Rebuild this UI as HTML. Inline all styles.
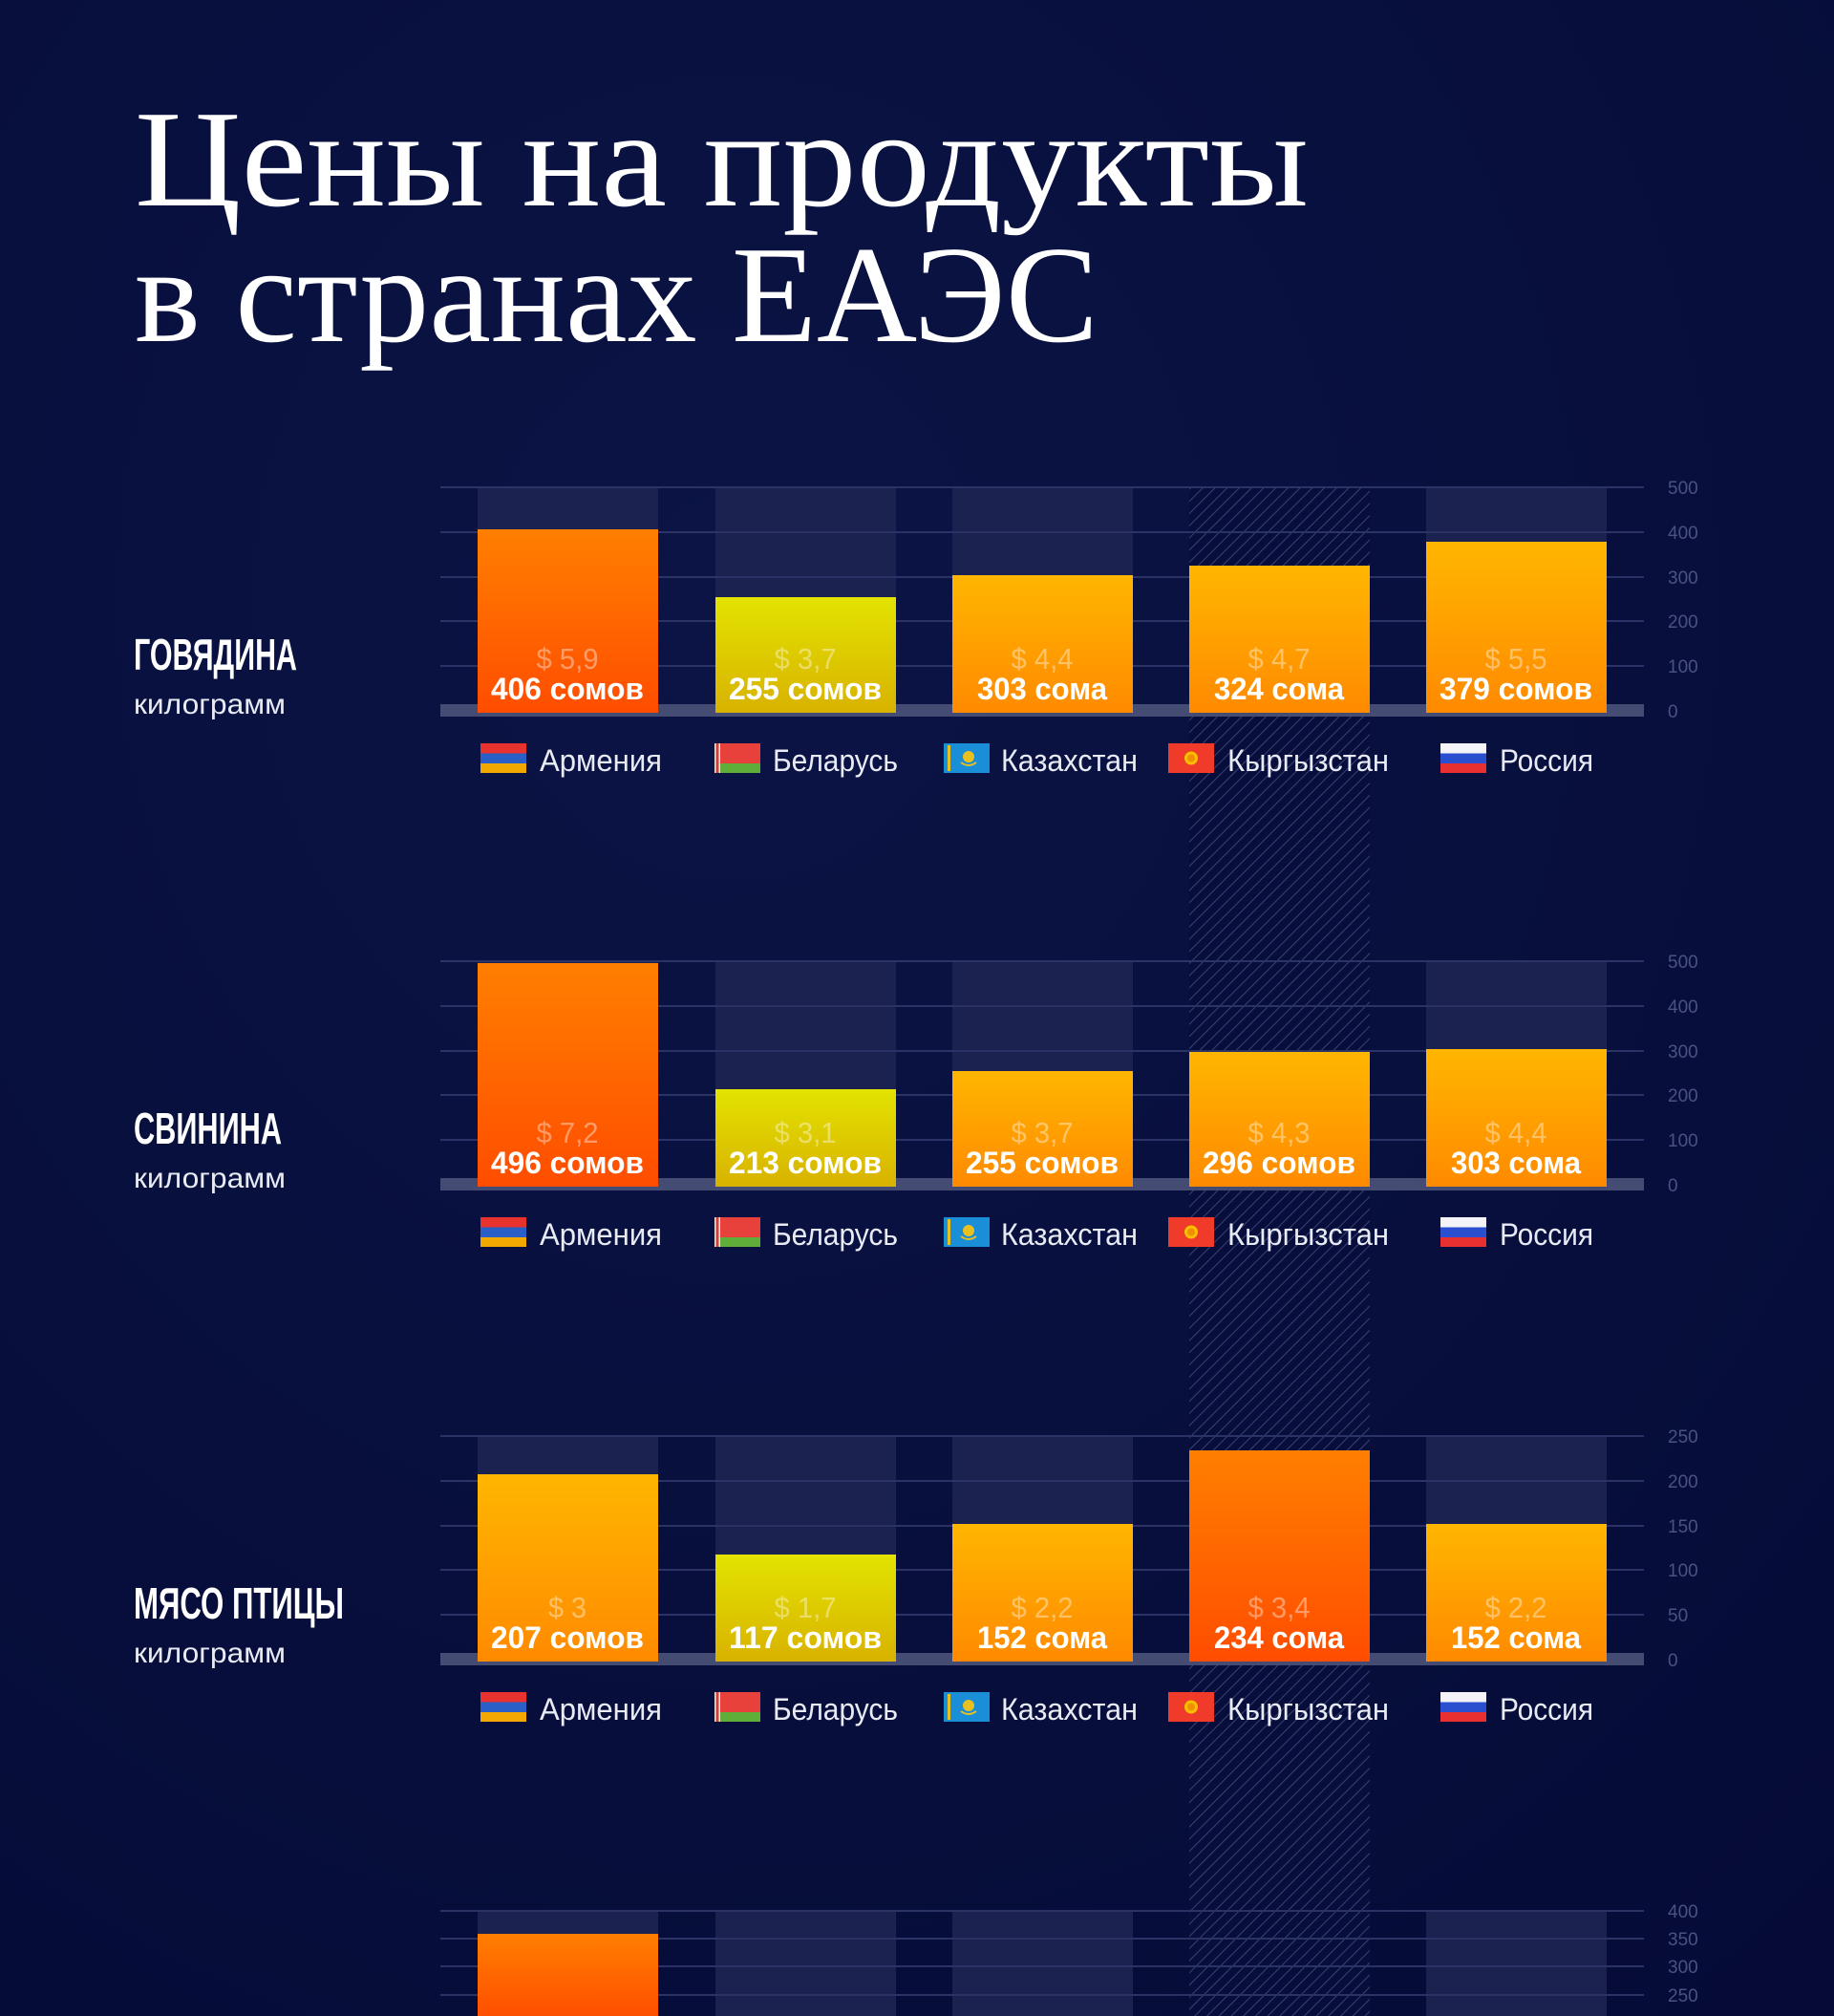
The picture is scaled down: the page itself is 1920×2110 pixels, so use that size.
<!DOCTYPE html>
<html><head><meta charset="utf-8"><style>
html,body{margin:0;padding:0;background:#060c3a;}
svg{display:block}
.t{font-family:"Liberation Serif","Noto Serif CJK SC",serif;fill:#fff}
.h{font-family:"Liberation Sans Narrow","Liberation Sans",sans-serif;font-weight:bold;fill:#fff}
.s{font-family:"Liberation Sans Narrow","Liberation Sans",sans-serif;fill:#e8eaf4}
.v{font-family:"Liberation Sans Narrow","Liberation Sans",sans-serif;font-weight:bold;fill:#fff;font-size:32px;text-anchor:middle}
.d{font-family:"Liberation Sans Narrow","Liberation Sans",sans-serif;fill:rgba(255,255,255,0.4);font-size:31px;text-anchor:middle}
.a{font-family:"Liberation Sans Narrow","Liberation Sans",sans-serif;fill:#4a5282;font-size:19px}
.l{font-family:"Liberation Sans Narrow","Liberation Sans",sans-serif;fill:#e8eaf4;font-size:32px}
</style></head><body>
<svg width="1920" height="2110" viewBox="0 0 1920 2110" xmlns="http://www.w3.org/2000/svg">
<defs>
<radialGradient id="bg" cx="0.4" cy="0.3" r="0.9"><stop offset="0" stop-color="#0b1445"/><stop offset="1" stop-color="#050b36"/></radialGradient>
<linearGradient id="gr" x1="0" y1="0" x2="0" y2="1"><stop offset="0" stop-color="#ff7f00"/><stop offset="1" stop-color="#ff4d00"/></linearGradient>
<linearGradient id="gy" x1="0" y1="0" x2="0" y2="1"><stop offset="0" stop-color="#e3e300"/><stop offset="1" stop-color="#d8b200"/></linearGradient>
<linearGradient id="go" x1="0" y1="0" x2="0" y2="1"><stop offset="0" stop-color="#ffb600"/><stop offset="1" stop-color="#ff8a00"/></linearGradient>
<pattern id="hat" width="9" height="9" patternUnits="userSpaceOnUse" patternTransform="rotate(45)"><rect width="9" height="9" fill="#070e3c"/><line x1="0" y1="0" x2="0" y2="9" stroke="#3a4272" stroke-width="2"/></pattern>
<g id="fAM"><rect width="48" height="10.5" fill="#e8322e"/><rect y="10.5" width="48" height="10.5" fill="#2a5fc8"/><rect y="21" width="48" height="10" fill="#f2a800"/></g>
<g id="fBY"><rect width="48" height="21" fill="#e8403a"/><rect y="21" width="48" height="10" fill="#5fae3a"/><rect width="6" height="31" fill="#f0e8e0"/><rect x="1.5" width="3" height="31" fill="#d04040"/></g>
<g id="fKZ"><rect width="48" height="31" fill="#1a8fd8"/><rect x="4" y="2" width="3" height="27" fill="#e8c020"/><circle cx="26" cy="14" r="6" fill="#e8c020"/><path d="M18 20 Q26 26 34 20" stroke="#e8c020" stroke-width="2" fill="none"/></g>
<g id="fKG"><rect width="48" height="31" fill="#f03a2a"/><circle cx="24" cy="15.5" r="7" fill="#f8c000"/><circle cx="24" cy="15.5" r="4" fill="#f09000"/></g>
<g id="fRU"><rect width="48" height="10.5" fill="#f4f4f8"/><rect y="10.5" width="48" height="10.5" fill="#2a50d0"/><rect y="21" width="48" height="10" fill="#e83030"/></g>
<g id="leg">
<use href="#fAM" x="503" y="778"/><text class="l" x="565" y="807" textLength="128" lengthAdjust="spacingAndGlyphs">Армения</text>
<use href="#fBY" x="748" y="778"/><text class="l" x="809" y="807" textLength="131" lengthAdjust="spacingAndGlyphs">Беларусь</text>
<use href="#fKZ" x="988" y="778"/><text class="l" x="1048" y="807" textLength="143" lengthAdjust="spacingAndGlyphs">Казахстан</text>
<use href="#fKG" x="1223" y="778"/><text class="l" x="1285" y="807" textLength="169" lengthAdjust="spacingAndGlyphs">Кыргызстан</text>
<use href="#fRU" x="1508" y="778"/><text class="l" x="1570" y="807" textLength="98" lengthAdjust="spacingAndGlyphs">Россия</text>
</g>
<g id="grid">
<rect x="500" y="510" width="189" height="234" fill="#1b2250"/><rect x="749" y="510" width="189" height="234" fill="#1b2250"/><rect x="997" y="510" width="189" height="234" fill="#1b2250"/><rect x="1493" y="510" width="189" height="234" fill="#1b2250"/>
<g stroke="#2b3366" stroke-width="2"><line x1="461" x2="1721" y1="510" y2="510"/><line x1="461" x2="1721" y1="557" y2="557"/><line x1="461" x2="1721" y1="604" y2="604"/><line x1="461" x2="1721" y1="650" y2="650"/><line x1="461" x2="1721" y1="697" y2="697"/></g>
<rect x="461" y="737" width="1260" height="13" fill="#454c74"/>
</g>
</defs>
<rect width="1920" height="2110" fill="url(#bg)"/>
<rect x="1245" y="510" width="189" height="1600" fill="url(#hat)"/>

<text class="t" x="141" y="215" font-size="134" textLength="1229" lengthAdjust="spacingAndGlyphs" transform="translate(0,215) scale(1,1.08) translate(0,-215)">Цены на продукты</text>
<text class="t" x="141" y="357" font-size="134" textLength="1009" lengthAdjust="spacingAndGlyphs" transform="translate(0,357) scale(1,1.08) translate(0,-357)">в странах ЕАЭС</text>

<!-- CHART 1 -->
<g>
<use href="#grid"/>
<rect x="500" y="554" width="189" height="192" fill="url(#gr)"/>
<rect x="749" y="625" width="189" height="121" fill="url(#gy)"/>
<rect x="997" y="602" width="189" height="144" fill="url(#go)"/>
<rect x="1245" y="592" width="189" height="154" fill="url(#go)"/>
<rect x="1493" y="567" width="189" height="179" fill="url(#go)"/>
<text class="d" x="594" y="700" textLength="65" lengthAdjust="spacingAndGlyphs">$ 5,9</text><text class="v" x="594" y="732" textLength="160" lengthAdjust="spacingAndGlyphs">406 сомов</text>
<text class="d" x="843" y="700" textLength="65" lengthAdjust="spacingAndGlyphs">$ 3,7</text><text class="v" x="843" y="732" textLength="160" lengthAdjust="spacingAndGlyphs">255 сомов</text>
<text class="d" x="1091" y="700" textLength="65" lengthAdjust="spacingAndGlyphs">$ 4,4</text><text class="v" x="1091" y="732" textLength="136" lengthAdjust="spacingAndGlyphs">303 сома</text>
<text class="d" x="1339" y="700" textLength="65" lengthAdjust="spacingAndGlyphs">$ 4,7</text><text class="v" x="1339" y="732" textLength="136" lengthAdjust="spacingAndGlyphs">324 сома</text>
<text class="d" x="1587" y="700" textLength="65" lengthAdjust="spacingAndGlyphs">$ 5,5</text><text class="v" x="1587" y="732" textLength="160" lengthAdjust="spacingAndGlyphs">379 сомов</text>
<text class="a" x="1746" y="517">500</text><text class="a" x="1746" y="564">400</text><text class="a" x="1746" y="611">300</text><text class="a" x="1746" y="657">200</text><text class="a" x="1746" y="704">100</text><text class="a" x="1746" y="751">0</text>
<text class="h" x="140" y="701" font-size="46" textLength="171" lengthAdjust="spacingAndGlyphs">ГОВЯДИНА</text>
<text class="s" x="140" y="747" font-size="30" textLength="159" lengthAdjust="spacingAndGlyphs">килограмм</text>
<use href="#leg"/>
</g>

<!-- CHART 2 -->
<g transform="translate(0,496)">
<use href="#grid"/>
<rect x="500" y="512" width="189" height="234" fill="url(#gr)"/>
<rect x="749" y="644" width="189" height="102" fill="url(#gy)"/>
<rect x="997" y="625" width="189" height="121" fill="url(#go)"/>
<rect x="1245" y="605" width="189" height="141" fill="url(#go)"/>
<rect x="1493" y="602" width="189" height="144" fill="url(#go)"/>
<text class="d" x="594" y="700" textLength="65" lengthAdjust="spacingAndGlyphs">$ 7,2</text><text class="v" x="594" y="732" textLength="160" lengthAdjust="spacingAndGlyphs">496 сомов</text>
<text class="d" x="843" y="700" textLength="65" lengthAdjust="spacingAndGlyphs">$ 3,1</text><text class="v" x="843" y="732" textLength="160" lengthAdjust="spacingAndGlyphs">213 сомов</text>
<text class="d" x="1091" y="700" textLength="65" lengthAdjust="spacingAndGlyphs">$ 3,7</text><text class="v" x="1091" y="732" textLength="160" lengthAdjust="spacingAndGlyphs">255 сомов</text>
<text class="d" x="1339" y="700" textLength="65" lengthAdjust="spacingAndGlyphs">$ 4,3</text><text class="v" x="1339" y="732" textLength="160" lengthAdjust="spacingAndGlyphs">296 сомов</text>
<text class="d" x="1587" y="700" textLength="65" lengthAdjust="spacingAndGlyphs">$ 4,4</text><text class="v" x="1587" y="732" textLength="136" lengthAdjust="spacingAndGlyphs">303 сома</text>
<text class="a" x="1746" y="517">500</text><text class="a" x="1746" y="564">400</text><text class="a" x="1746" y="611">300</text><text class="a" x="1746" y="657">200</text><text class="a" x="1746" y="704">100</text><text class="a" x="1746" y="751">0</text>
<text class="h" x="140" y="701" font-size="46" textLength="155" lengthAdjust="spacingAndGlyphs">СВИНИНА</text>
<text class="s" x="140" y="747" font-size="30" textLength="159" lengthAdjust="spacingAndGlyphs">килограмм</text>
<use href="#leg"/>
</g>

<!-- CHART 3 -->
<g transform="translate(0,993)">
<use href="#grid"/>
<rect x="500" y="550" width="189" height="196" fill="url(#go)"/>
<rect x="749" y="634" width="189" height="112" fill="url(#gy)"/>
<rect x="997" y="602" width="189" height="144" fill="url(#go)"/>
<rect x="1245" y="525" width="189" height="221" fill="url(#gr)"/>
<rect x="1493" y="602" width="189" height="144" fill="url(#go)"/>
<text class="d" x="594" y="700" textLength="40" lengthAdjust="spacingAndGlyphs">$ 3</text><text class="v" x="594" y="732" textLength="160" lengthAdjust="spacingAndGlyphs">207 сомов</text>
<text class="d" x="843" y="700" textLength="65" lengthAdjust="spacingAndGlyphs">$ 1,7</text><text class="v" x="843" y="732" textLength="160" lengthAdjust="spacingAndGlyphs">117 сомов</text>
<text class="d" x="1091" y="700" textLength="65" lengthAdjust="spacingAndGlyphs">$ 2,2</text><text class="v" x="1091" y="732" textLength="136" lengthAdjust="spacingAndGlyphs">152 сома</text>
<text class="d" x="1339" y="700" textLength="65" lengthAdjust="spacingAndGlyphs">$ 3,4</text><text class="v" x="1339" y="732" textLength="136" lengthAdjust="spacingAndGlyphs">234 сома</text>
<text class="d" x="1587" y="700" textLength="65" lengthAdjust="spacingAndGlyphs">$ 2,2</text><text class="v" x="1587" y="732" textLength="136" lengthAdjust="spacingAndGlyphs">152 сома</text>
<text class="a" x="1746" y="517">250</text><text class="a" x="1746" y="564">200</text><text class="a" x="1746" y="611">150</text><text class="a" x="1746" y="657">100</text><text class="a" x="1746" y="704">50</text><text class="a" x="1746" y="751">0</text>
<text class="h" x="140" y="701" font-size="46" textLength="220" lengthAdjust="spacingAndGlyphs">МЯСО ПТИЦЫ</text>
<text class="s" x="140" y="747" font-size="30" textLength="159" lengthAdjust="spacingAndGlyphs">килограмм</text>
<use href="#leg"/>
</g>

<!-- CHART 4 -->
<g>
<rect x="500" y="2000" width="189" height="110" fill="#1b2250"/><rect x="749" y="2000" width="189" height="110" fill="#1b2250"/><rect x="997" y="2000" width="189" height="110" fill="#1b2250"/><rect x="1493" y="2000" width="189" height="110" fill="#1b2250"/>
<g stroke="#2b3366" stroke-width="2"><line x1="461" x2="1721" y1="2000" y2="2000"/><line x1="461" x2="1721" y1="2029" y2="2029"/><line x1="461" x2="1721" y1="2058" y2="2058"/><line x1="461" x2="1721" y1="2088" y2="2088"/></g>
<rect x="500" y="2024" width="189" height="90" fill="url(#gr)"/>
<text class="a" x="1746" y="2007">400</text><text class="a" x="1746" y="2036">350</text><text class="a" x="1746" y="2065">300</text><text class="a" x="1746" y="2095">250</text>
</g>
</svg>
</body></html>
